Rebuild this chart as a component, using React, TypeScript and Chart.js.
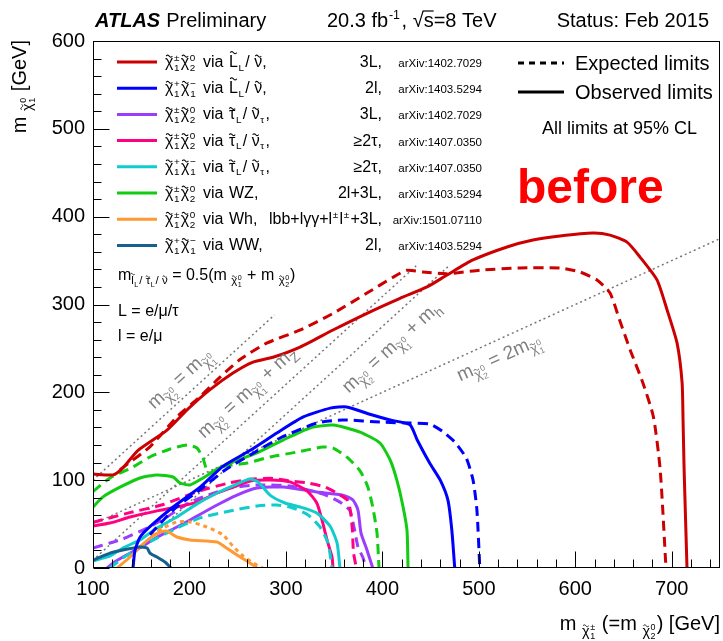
import React, { useEffect, useRef } from "react";
import { Chart, registerables } from "chart.js";
Chart.register(...registerables);

const FONT = '"Liberation Sans", Arial, Helvetica, sans-serif';

type P = [number, number];

// ---- Observed / expected exclusion contours (x = m(chi1+-), y = m(chi1_0)) [GeV]
const redObs: P[] = [[100,107],[120.7,106],[131,114],[146.7,134],[176.7,157],[197.5,180],[221.3,203],[245.1,222],[265.9,234.5],[286.6,240],[314.6,251.6],[348.8,271],[384.1,290],[418.3,307],[446.3,320],[467,333.6],[493.9,350.7],[529.2,365.5],[556.1,373.4],[584.1,378],[618.4,381.4],[636,379],[653.6,371],[667.1,354],[684.7,328],[695.1,294],[705.5,256],[710.7,211],[711.7,168],[712.8,112],[715.8,0]];
const redExp: P[] = [[128,112],[159,138],[187,172],[211,195],[232,217.5],[252,237],[280,256],[315,271],[349,290],[384,313],[411,331],[425.5,339],[442,337],[467,335],[501,339],[543,341.6],[584,341.6],[605,337],[622.5,328],[636,313],[646,282],[657,248],[670,211],[681,172],[688,112],[694,0]];
const blueObs: P[] = [[141.5,0],[143.5,20],[148.7,35],[159,47],[183,69.5],[211,92],[235,116],[263,134],[291,154],[318,172],[346,182],[363,183.3],[387,175],[408,168.5],[428.6,163],[436,146],[449,119.5],[460,100],[468,77],[472,43],[475,0]];
const blueExp: P[] = [[159,38],[185,68],[211,89],[237,111.6],[263,128.7],[294,148],[332,165],[359,168.5],[400.6,166],[428.6,165],[449,164],[463,155],[475,143.5],[487,125],[494,100],[498,66],[501,0]];
const purpleObs: P[] = [[114.5,0],[122.8,7],[131,12.5],[148.7,23],[166.3,35],[185,45.5],[200.6,54.7],[228.6,71.7],[249.3,83],[270,91],[297,92.2],[332,86.5],[359,83],[369.5,77.4],[374.7,66],[377.8,40],[384,20.5],[390,0]];
const purpleExp: P[] = [[100,22.8],[117.6,28.5],[131,33],[156,45.5],[176.7,58],[197.5,73],[214,81],[242,91],[270,94.5],[304,93.4],[338.4,84.3],[356,75],[366,66],[370.6,46.7],[374.7,24],[380,11.4],[383,0]];
const pinkObs: P[] = [[100,47.8],[117.6,51.2],[138.4,58],[166.3,65],[187,69.5],[208,75],[228.6,85.4],[245,92],[263,99],[283.5,100.2],[304,98],[322,87.7],[332,74],[337.4,54.7],[342.6,32],[347.8,12.5],[348.8,0]];
const pinkExp: P[] = [[100,52],[138,63],[172,72],[211,88],[242,97],[263,101],[287,102],[304,99],[322,97],[341,92],[355,84],[364,77],[367,64],[369,42],[370,18],[373,0]];
const cyanObs: P[] = [[100,8],[117.6,13.7],[131,22.8],[148.7,32],[166.3,45.5],[187,58],[207.8,73],[228.6,85.4],[249.3,95.6],[262.8,101.3],[271,98],[283.5,83],[299,74],[314.6,69.5],[332,62.6],[345.7,47.8],[353,28.5],[356,0]];
const cyanExp: P[] = [[117.6,0],[131,11.4],[148.7,24],[166.3,34],[187,45.5],[211,57],[242,65],[270,70.6],[290.8,71.7],[307.3,68.3],[323,60.3],[335.3,46.7],[343.6,28.5],[347.8,0]];
const greenObs: P[] = [[100,69.5],[110.4,81],[128,92],[148.7,102.5],[166.3,106],[183,103.6],[190,97],[200.6,94.5],[214,102.5],[228.6,112.7],[242,119.5],[270,131],[297,145.7],[325,159.4],[348.8,162.8],[376.8,154.8],[397.5,142.3],[408,123],[415,100],[421,72],[425.5,43],[426.6,0]];
const greenExp: P[] = [[100,87],[117.6,102.5],[141.5,115],[159,126.4],[180,135.5],[197.5,140],[207.8,136.6],[214,125],[219,109],[226.5,109],[237,116],[260,119.5],[283.5,126.4],[311.5,132],[338.4,137.8],[349,136.6],[363,126.4],[377,110.4],[385,92],[390,69.5],[394.4,40],[396.5,0]];
const orangeObs: P[] = [[125,0],[138.4,12.5],[148.7,24],[159,34],[169.5,41],[176.7,42],[187,35.3],[200.6,32],[228.6,29.6],[236.8,24],[249.3,14.8],[262.8,5.7],[270,0]];
const orangeExp: P[] = [[160,38],[172.6,45.5],[187,52.4],[200.6,52.4],[218,46.7],[234.8,37.6],[245,25],[255.5,13.7],[266,5.7],[276,0]];
const wwObs: P[] = [[100,9],[117.6,17],[131,20.5],[148.7,24],[156,22.8],[159,17],[166.3,12.5],[174.6,6.8],[181,0]];

// ---- kinematic boundary lines
const diagEq: P[] = [[100,100],[288,288]];
const diagZ: P[] = [[100,9],[436,345]];
const diagH: P[] = [[125,0],[470,345]];
const diagHalf: P[] = [[100,50],[750,375]];

// ---- legend content
const legendColors = ["#cc0000","#0000ff","#9b3dff","#ff0080","#11cccc","#11cc11","#ff9933","#15608f"];
const legendProc = ["~χ^±_1~χ^0_2","~χ^+_1~χ^−_1","~χ^±_1~χ^0_2","~χ^±_1~χ^0_2","~χ^+_1~χ^−_1","~χ^±_1~χ^0_2","~χ^±_1~χ^0_2","~χ^+_1~χ^−_1"];
const legendVia = ["~L_L/ ~ν,","~L_L/ ~ν,","~τ_L/ ~ν_τ,","~τ_L/ ~ν_τ,","~τ_L/ ~ν_τ,","WZ,","Wh,","WW,"];
const legendChan = ["3L,","2l,","3L,","≥2τ,","≥2τ,","2l+3L,","lbb+lγγ+l^±l^±+3L,","2l,"];
const legendRef = ["arXiv:1402.7029","arXiv:1403.5294","arXiv:1402.7029","arXiv:1407.0350","arXiv:1407.0350","arXiv:1403.5294","arXiv:1501.07110","arXiv:1403.5294"];

// diagonal labels: text, anchor (data coords), slope of their line
const diagLabelText = ["m‹~χ^0_2› = m‹~χ^0_1›","m‹~χ^0_2› = m‹~χ^0_1› + m‹Z›","m‹~χ^0_2› = m‹~χ^0_1› + m‹h›","m‹~χ^0_2› = 2m‹~χ^0_1›"];
const diagLabelAt: P[] = [[190,216],[259.6,200.4],[409,251.6],[521,240]];
const diagLabelSlope = [1,1,1,0.5];

type Seg = { t: string; tl?: boolean; ol?: boolean; sup?: string; sub?: string; sc: number; dy: number };

function parseRich(src: string): Seg[] {
  const segs: Seg[] = [];
  let small = false;
  let i = 0;
  const readScript = () => {
    if (src[i] === "{") { const j = src.indexOf("}", i); const s = src.slice(i + 1, j); i = j + 1; return s; }
    return src[i++];
  };
  while (i < src.length) {
    const c = src[i];
    if (c === "‹") { small = true; i++; continue; }
    if (c === "›") { small = false; i++; continue; }
    const sc = small ? 0.72 : 1;
    const dy = small ? 0.28 : 0;
    if (c === "~" || c === "`") {
      segs.push({ t: src[i + 1], tl: c === "~", ol: c === "`", sc, dy });
      i += 2; continue;
    }
    if (c === "^" || c === "_") {
      i++;
      const s = readScript();
      let last = segs[segs.length - 1];
      if (!last) { last = { t: "", sc, dy }; segs.push(last); }
      if (c === "^") last.sup = s; else last.sub = s;
      continue;
    }
    const last = segs[segs.length - 1];
    if (last && !last.tl && !last.ol && last.sup === undefined && last.sub === undefined && last.sc === sc) last.t += c;
    else segs.push({ t: c, sc, dy });
    i++;
  }
  return segs;
}

function richWidth(ctx: CanvasRenderingContext2D, segs: Seg[], size: number) {
  let w = 0;
  for (const s of segs) {
    const fs = size * s.sc;
    ctx.font = `${fs}px ${FONT}`;
    w += ctx.measureText(s.t).width;
    if (s.sup !== undefined || s.sub !== undefined) {
      ctx.font = `${fs * 0.62}px ${FONT}`;
      const a = s.sup ? ctx.measureText(s.sup).width : 0;
      const b = s.sub ? ctx.measureText(s.sub).width : 0;
      w += Math.max(a, b) + fs * 0.12;
    }
  }
  return w;
}

function tilde(ctx: CanvasRenderingContext2D, cx: number, ty: number, w: number, lw: number) {
  const h = w * 0.16;
  ctx.beginPath();
  for (let k = 0; k <= 12; k++) {
    const t = k / 12;
    const x = cx - w / 2 + t * w;
    const y = ty - h * Math.sin(2 * Math.PI * t);
    if (k === 0) ctx.moveTo(x, y); else ctx.lineTo(x, y);
  }
  ctx.lineWidth = lw;
  ctx.setLineDash([]);
  ctx.stroke();
}

function drawRich(ctx: CanvasRenderingContext2D, src: string, x: number, y: number, size: number, color: string, align = "left") {
  const segs = parseRich(src);
  const w = richWidth(ctx, segs, size);
  let cx = align === "right" ? x - w : align === "center" ? x - w / 2 : x;
  ctx.fillStyle = color;
  ctx.strokeStyle = color;
  ctx.textAlign = "left";
  ctx.textBaseline = "alphabetic";
  for (const s of segs) {
    const fs = size * s.sc;
    const yy = y + s.dy * size;
    ctx.font = `${fs}px ${FONT}`;
    ctx.fillText(s.t, cx, yy);
    const mw = ctx.measureText(s.t).width;
    if (s.tl) {
      const tall = /[A-Zlbdfhk]/.test(s.t);
      tilde(ctx, cx + mw / 2, yy - fs * (tall ? 0.9 : 0.68), Math.max(mw * 0.75, fs * 0.38), Math.max(0.9, fs * 0.065));
    }
    if (s.ol) {
      ctx.lineWidth = Math.max(1, fs * 0.06);
      ctx.beginPath();
      ctx.moveTo(cx - fs * 0.05, yy - fs * 0.8);
      ctx.lineTo(cx + mw, yy - fs * 0.8);
      ctx.stroke();
    }
    cx += mw;
    if (s.sup !== undefined || s.sub !== undefined) {
      const ss = fs * 0.62;
      ctx.font = `${ss}px ${FONT}`;
      let ww = 0;
      if (s.sup) { ctx.fillText(s.sup, cx + fs * 0.04, yy - fs * 0.4); ww = Math.max(ww, ctx.measureText(s.sup).width); }
      if (s.sub) { ctx.fillText(s.sub, cx + fs * 0.04, yy + fs * 0.22); ww = Math.max(ww, ctx.measureText(s.sub).width); }
      cx += ww + fs * 0.12;
    }
  }
}

function hline(ctx: CanvasRenderingContext2D, x1: number, y1: number, x2: number, y2: number) {
  ctx.beginPath();
  ctx.moveTo(x1, y1);
  ctx.lineTo(x2, y2);
  ctx.stroke();
}

const mk = (pts: P[], color: string, dash: number[], width = 3) => ({
  data: pts.map(([x, y]) => ({ x, y })),
  showLine: true,
  borderColor: color,
  backgroundColor: color,
  borderWidth: width,
  borderDash: dash,
  pointRadius: 0,
  fill: false,
  tension: 0.2,
});

export default function App() {
  const ref = useRef<HTMLCanvasElement>(null);
  useEffect(() => {
    const canvas = ref.current!;
    const EXP = [10, 6];
    const overlay = {
      id: "overlay",
      afterDraw(chart: any) {
        const ctx: CanvasRenderingContext2D = chart.ctx;
        const a = chart.chartArea;
        const xs = chart.scales.x;
        const ys = chart.scales.y;
        ctx.save();
        ctx.setLineDash([]);
        ctx.strokeStyle = "#000";
        ctx.lineWidth = 1;
        const L = Math.round(a.left) + 0.5, T = Math.round(a.top) + 0.5, R = Math.round(a.right) - 0.5, B = Math.round(a.bottom) - 0.5;
        ctx.strokeRect(L, T, R - L, B - T);
        for (let v = 100; v < 750; v += 20) {
          const px = Math.round(xs.getPixelForValue(v)) + 0.5;
          hline(ctx, px, B, px, B - (v % 100 === 0 ? 16 : 8));
        }
        for (let v = 0; v <= 600; v += 20) {
          const py = Math.round(ys.getPixelForValue(v)) + 0.5;
          hline(ctx, L, py, L + (v % 100 === 0 ? 16 : 8), py);
        }

        // header
        ctx.fillStyle = "#000";
        ctx.textBaseline = "alphabetic";
        ctx.textAlign = "left";
        ctx.font = `italic bold 20px ${FONT}`;
        ctx.fillText("ATLAS", 95, 27);
        const aw = ctx.measureText("ATLAS").width;
        ctx.font = `20px ${FONT}`;
        ctx.fillText("Preliminary", 95 + aw + 6, 27);
        drawRich(ctx, "20.3 fb^{-1}, √`s=8 TeV", 327, 27, 20, "#000", "left");
        ctx.font = `20px ${FONT}`;
        ctx.textAlign = "right";
        ctx.fillText("Status: Feb 2015", 709, 27);
        ctx.textAlign = "left";

        // process legend
        for (let i = 0; i < legendProc.length; i++) {
          const cy = 62 + i * 26.2;
          ctx.strokeStyle = legendColors[i];
          ctx.lineWidth = 3;
          ctx.setLineDash([]);
          hline(ctx, 117, cy, 157, cy);
          drawRich(ctx, legendProc[i], 165, cy + 5, 16, "#000", "left");
          drawRich(ctx, "via", 203, cy + 5, 16, "#000", "left");
          drawRich(ctx, legendVia[i], 229, cy + 5, 16, "#000", "left");
          drawRich(ctx, legendChan[i], 382, cy + 5, 16, "#000", "right");
          ctx.font = `11.5px ${FONT}`;
          ctx.fillStyle = "#000";
          ctx.textAlign = "right";
          ctx.fillText(legendRef[i], 482, cy + 5);
          ctx.textAlign = "left";
        }

        // info text
        drawRich(ctx, "m‹~l_L/ ~τ_L/ ~ν› = 0.5(m ‹~χ^0_1› + m ‹~χ^0_2›)", 118, 280, 16, "#000", "left");
        drawRich(ctx, "L = e/μ/τ", 118, 316, 16, "#000", "left");
        drawRich(ctx, "l = e/μ", 118, 341, 16, "#000", "left");

        // style legend
        ctx.strokeStyle = "#000";
        ctx.lineWidth = 3;
        ctx.setLineDash([6, 5]);
        hline(ctx, 518, 63, 564, 63);
        ctx.setLineDash([]);
        hline(ctx, 518, 92, 564, 92);
        ctx.fillStyle = "#000";
        ctx.font = `20px ${FONT}`;
        ctx.fillText("Expected limits", 575, 70);
        ctx.fillText("Observed limits", 575, 99);
        ctx.font = `18px ${FONT}`;
        ctx.fillText("All limits at 95% CL", 542, 134);

        // diagonal labels
        for (let i = 0; i < diagLabelText.length; i++) {
          const [dx, dy] = diagLabelAt[i];
          const px = xs.getPixelForValue(dx);
          const py = ys.getPixelForValue(dy);
          const ang = Math.atan2(ys.getPixelForValue(dy + diagLabelSlope[i] * 100) - py, xs.getPixelForValue(dx + 100) - px);
          ctx.save();
          ctx.translate(px, py);
          ctx.rotate(ang);
          drawRich(ctx, diagLabelText[i], 0, 6, 19, "#7f7f7f", "center");
          ctx.restore();
        }

        // overlay stamp
        ctx.fillStyle = "#ff0000";
        ctx.font = `bold 48px ${FONT}`;
        ctx.fillText("before", 517, 203);

        // axis titles
        drawRich(ctx, "m ‹~χ^±_1› (=m ‹~χ^0_2›) [GeV]", 720, 630, 20, "#000", "right");
        ctx.save();
        ctx.translate(26, 40);
        ctx.rotate(-Math.PI / 2);
        drawRich(ctx, "m ‹~χ^0_1› [GeV]", 0, 0, 20, "#000", "right");
        ctx.restore();
        ctx.restore();
      },
    };

    const chart = new Chart(canvas, {
      type: "scatter",
      data: {
        datasets: [
          mk(redObs, "#cc0000", []),
          mk(redExp, "#cc0000", EXP),
          mk(blueObs, "#0000ff", []),
          mk(blueExp, "#0000ff", EXP),
          mk(wwObs, "#15608f", []),
          mk(orangeObs, "#ff9933", []),
          mk(orangeExp, "#ff9933", [4, 4]),
          mk(cyanObs, "#11cccc", []),
          mk(cyanExp, "#11cccc", EXP),
          mk(pinkObs, "#ff0080", []),
          mk(pinkExp, "#ff0080", EXP),
          mk(purpleObs, "#9b3dff", []),
          mk(purpleExp, "#9b3dff", EXP),
          mk(greenObs, "#11cc11", []),
          mk(greenExp, "#11cc11", EXP),
          mk(diagEq, "#777777", [2, 3], 1.5),
          mk(diagZ, "#777777", [2, 3], 1.5),
          mk(diagH, "#777777", [2, 3], 1.5),
          mk(diagHalf, "#777777", [2, 3], 1.5),
        ] as any,
      },
      options: {
        responsive: false,
        maintainAspectRatio: false,
        animation: false,
        events: [],
        layout: { padding: { top: 41, right: 3, left: 0, bottom: 0 } },
        plugins: { legend: { display: false }, tooltip: { enabled: false } },
        scales: {
          x: {
            type: "linear",
            min: 100,
            max: 750,
            grid: { display: false, drawTicks: false },
            border: { display: false },
            ticks: { stepSize: 100, includeBounds: false, autoSkip: false, maxRotation: 0, font: { size: 20, family: FONT }, color: "#000", padding: 9 },
            afterFit: (s: any) => { s.height = 73; },
          },
          y: {
            type: "linear",
            min: 0,
            max: 600,
            grid: { display: false, drawTicks: false },
            border: { display: false },
            ticks: { stepSize: 100, includeBounds: false, font: { size: 20, family: FONT }, color: "#000", padding: 8 },
            afterFit: (s: any) => { s.width = 93; },
          },
        },
      } as any,
      plugins: [overlay],
    });
    return () => chart.destroy();
  }, []);
  return (
    <div style={{ position: "absolute", left: 0, top: 0, width: 723, height: 641, background: "#fff" }}>
      <canvas ref={ref} width={723} height={641} style={{ display: "block" }} />
    </div>
  );
}
